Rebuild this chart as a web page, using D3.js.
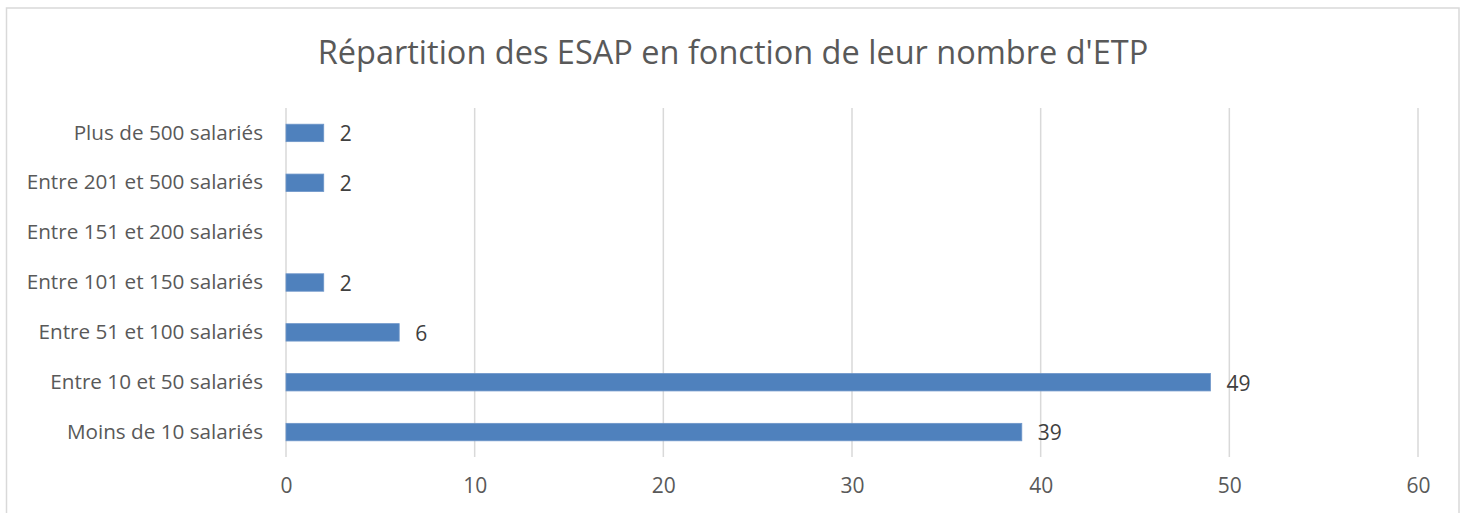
<!DOCTYPE html>
<html>
<head>
<meta charset="utf-8">
<script src="https://cdn.jsdelivr.net/npm/d3@7"></script>
<style>
  body { margin: 0; background: #fff; }
  svg { display: block; font-family: "Open Sans", "Noto Sans", sans-serif; }
</style>
</head>
<body>
<div id="grafiek"></div>
<script>
// categorieën van onder naar boven zoals in de grafiek
var categorieen = ["Moins de 10 salariés", "Entre 10 et 50 salariés", "Entre 51 et 100 salariés",
                   "Entre 101 et 150 salariés", "Entre 151 et 200 salariés",
                   "Entre 201 et 500 salariés", "Plus de 500 salariés"];
var waarden = [39, 49, 6, 2, null, 2, 2];
var ticks = [0, 10, 20, 30, 40, 50, 60];
var titel = "Répartition des ESAP en fonction de leur nombre d'ETP";

var breedte = 1466, hoogte = 513;
var marge = {boven: 108, beneden: 56, links: 286, rechts: 48};

var svg = d3.select("#grafiek").append("svg")
            .attr("width", breedte)
            .attr("height", hoogte);

// rand van het grafiekvlak
svg.append("rect")
   .attr("x", 6.5).attr("y", 8)
   .attr("width", 1452.5).attr("height", 520)
   .attr("fill", "none")
   .attr("stroke", "#d9d9d9")
   .attr("stroke-width", 1.5);

svg.append("text")
   .attr("x", breedte / 2)
   .attr("y", 64)
   .attr("text-anchor", "middle")
   .attr("fill", "#595959")
   .style("font-size", "32.5px")
   .text(titel);

var x = d3.scaleLinear()
          .domain([0, 60])
          .range([marge.links, breedte - marge.rechts]);

var y = d3.scaleBand()
          .domain(categorieen.slice().reverse())
          .range([marge.boven, hoogte - marge.beneden])
          .paddingInner(0.65)
          .paddingOuter(0.325);

// rasterlijnen
svg.append("g")
   .selectAll("line")
   .data(ticks)
   .enter().append("line")
   .attr("x1", function(d) { return x(d); })
   .attr("x2", function(d) { return x(d); })
   .attr("y1", marge.boven)
   .attr("y2", hoogte - marge.beneden)
   .attr("stroke", "#d9d9d9")
   .attr("stroke-width", 1.5);

// x-as labels
var xAs = svg.append("g")
             .attr("transform", "translate(0," + (hoogte - marge.beneden) + ")")
             .call(d3.axisBottom(x).tickValues(ticks).tickSize(0).tickPadding(21));
xAs.select(".domain").remove();
xAs.selectAll("text")
   .attr("fill", "#595959")
   .style("font-size", "21px")
   .style("font-family", "'Open Sans', sans-serif");

// y-as labels
var yAs = svg.append("g")
             .attr("transform", "translate(" + (marge.links - 23) + ",0)")
             .call(d3.axisLeft(y).tickSize(0).tickPadding(0));
yAs.select(".domain").remove();
yAs.selectAll("text")
   .attr("fill", "#595959")
   .style("font-size", "20.7px")
   .style("font-family", "'Open Sans', sans-serif");

var data = categorieen.map(function(c, i) { return {cat: c, waarde: waarden[i]}; })
                      .filter(function(d) { return d.waarde != null; });

// staven
svg.append("g")
   .selectAll("rect")
   .data(data)
   .enter().append("rect")
   .attr("x", x(0))
   .attr("y", function(d) { return y(d.cat); })
   .attr("width", function(d) { return x(d.waarde) - x(0); })
   .attr("height", y.bandwidth())
   .attr("fill", "#4f81bd")
   .attr("stroke", "#6e96c9")
   .attr("stroke-width", 0.8);

// waardelabels
svg.append("g")
   .selectAll("text")
   .data(data)
   .enter().append("text")
   .attr("x", function(d) { return x(d.waarde) + 16; })
   .attr("y", function(d) { return y(d.cat) + y.bandwidth() / 2; })
   .attr("dy", "0.4em")
   .attr("fill", "#404040")
   .style("font-size", "21px")
   .text(function(d) { return d.waarde; });
</script>
</body>
</html>
